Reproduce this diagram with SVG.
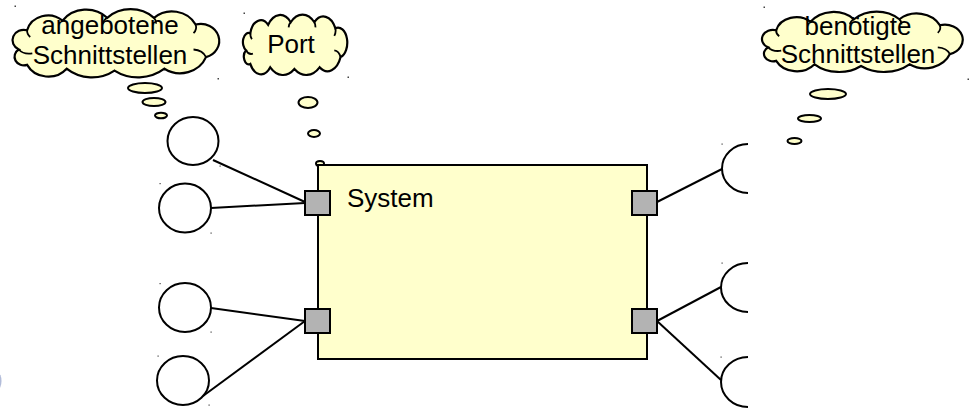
<svg xmlns="http://www.w3.org/2000/svg" width="978" height="409" viewBox="0 0 978 409">
<style>
.cl{fill:#FFFFCC;stroke:#000;stroke-width:2.2;vector-effect:non-scaling-stroke}
.curl{fill:none;stroke:#000;stroke-width:1.8;vector-effect:non-scaling-stroke}
.bub{fill:#FFFFCC;stroke:#000;stroke-width:2}
.ln{stroke:#000;stroke-width:2;fill:none}
.port{fill:#B3B3B3;stroke:#000;stroke-width:2}
.ifc{fill:#fff;stroke:#000;stroke-width:2}
.sock{fill:none;stroke:#000;stroke-width:2}
.t{font-family:"Liberation Sans",Arial,sans-serif;font-size:26px;fill:#000}
.dot{fill:#444}
</style>
<defs>
<g id="cloud">
<path class="cl" d="M20,50 A10.8,10.8 0 0 1 28,30 A20.7,20.7 0 0 1 62,20 A28.2,28.2 0 0 1 105,17 A32.6,32.6 0 0 1 150,17 A25.6,25.6 0 0 1 190,24 A17.7,17.7 0 0 1 200,58 A26.8,26.8 0 0 1 160,70 A40,40 0 0 1 112,72 A37,37 0 0 1 66,70 A23,23 0 0 1 28,66 A9,9 0 0 1 20,50 Z"/>
<path class="curl" d="M20,50 A12,9 0 0 0 33,54 M28,30 A10,9 0 0 0 31,37 M200,58 A14,12 0 0 0 188,50 M190,24 A9,9 0 0 1 188,33 M105,17 A8,8 0 0 0 101,23 M150,17 A8,8 0 0 1 152,23"/>
</g>
</defs>

<g id="cloud-angebotene">
<use href="#cloud" transform="translate(-2,1.5) scale(1.04,0.96)"/>
<text class="t" x="110" y="34" text-anchor="middle">angebotene</text>
<text class="t" x="110" y="64" text-anchor="middle">Schnittstellen</text>
<ellipse class="bub" cx="145" cy="88" rx="17" ry="5"/>
<ellipse class="bub" cx="154" cy="102" rx="11.5" ry="4"/>
<ellipse class="bub" cx="161" cy="115.5" rx="6" ry="2.8"/>
</g>

<g id="cloud-port">
<use href="#cloud" transform="translate(235.6,7.8) scale(0.525,0.85)"/>
<text class="t" x="291" y="53" text-anchor="middle">Port</text>
<ellipse class="bub" cx="308" cy="102.5" rx="9.5" ry="5.5"/>
<ellipse class="bub" cx="314" cy="133.5" rx="6" ry="3.5"/>
<ellipse class="bub" cx="320" cy="163.5" rx="4" ry="2.5"/>
</g>

<g id="cloud-benoetigte">
<use href="#cloud" transform="translate(747.9,4.8) scale(1.01,0.85)"/>
<text class="t" x="858" y="35" text-anchor="middle">benötigte</text>
<text class="t" x="858" y="63" text-anchor="middle">Schnittstellen</text>
<ellipse class="bub" cx="828" cy="94" rx="18" ry="5"/>
<ellipse class="bub" cx="809.5" cy="118.5" rx="11.5" ry="3.5"/>
<ellipse class="bub" cx="794.5" cy="141" rx="7" ry="3"/>
</g>

<g id="system">
<rect x="318" y="165" width="329" height="194" fill="#FFFFCC" stroke="#000" stroke-width="2"/>
<text class="t" x="347" y="207">System</text>
</g>

<g id="connectors">
<line class="ln" x1="213" y1="160" x2="305" y2="202"/>
<line class="ln" x1="211" y1="208" x2="305" y2="203"/>
<line class="ln" x1="211" y1="308" x2="305" y2="321"/>
<line class="ln" x1="203" y1="396" x2="305" y2="321"/>
<line class="ln" x1="657" y1="202" x2="722" y2="169"/>
<line class="ln" x1="657" y1="321" x2="721" y2="287"/>
<line class="ln" x1="657" y1="321" x2="721" y2="380"/>
</g>

<g id="port-left-top"><rect class="port" x="305" y="191" width="25" height="24"/></g>
<g id="port-left-bottom"><rect class="port" x="305" y="309" width="25" height="24"/></g>
<g id="port-right-top"><rect class="port" x="632" y="191" width="25" height="24"/></g>
<g id="port-right-bottom"><rect class="port" x="632" y="309" width="25" height="24"/></g>

<g id="provided-1"><ellipse class="ifc" cx="193" cy="141" rx="25.5" ry="24"/></g>
<g id="provided-2"><ellipse class="ifc" cx="185" cy="208" rx="26" ry="24.5"/></g>
<g id="provided-3"><ellipse class="ifc" cx="185" cy="307.5" rx="26" ry="24.5"/></g>
<g id="provided-4"><ellipse class="ifc" cx="183" cy="380.5" rx="26" ry="24.5"/></g>

<g id="required-1"><path class="sock" d="M748,144 A26,24.5 0 0 0 748,193"/></g>
<g id="required-2"><path class="sock" d="M748,263 A27,24.5 0 0 0 748,312"/></g>
<g id="required-3"><path class="sock" d="M748,357 A27,25 0 0 0 748,407"/></g>

<g id="handles">
<rect class="dot" x="14.5" y="5.5" width="1.5" height="1.5"/>
<rect class="dot" x="217.5" y="78" width="1.5" height="1.5"/>
<rect class="dot" x="243.5" y="12.5" width="1.5" height="1.5"/>
<rect class="dot" x="347.5" y="76.5" width="1.5" height="1.5"/>
<rect class="dot" x="763.5" y="6.5" width="1.5" height="1.5"/>
<rect class="dot" x="967.5" y="78.5" width="1.5" height="1.5"/>
<rect class="dot" x="219.5" y="165.5" width="1.2" height="1.2"/>
<rect class="dot" x="159.5" y="183" width="1.2" height="1.2"/>
<rect class="dot" x="210.5" y="232.5" width="1.2" height="1.2"/>
<rect class="dot" x="159.5" y="283" width="1.2" height="1.2"/>
<rect class="dot" x="210.5" y="331.5" width="1.2" height="1.2"/>
<rect class="dot" x="157.5" y="355.5" width="1.2" height="1.2"/>
<rect class="dot" x="208.5" y="404.5" width="1.2" height="1.2"/>
<rect class="dot" x="721.5" y="143.5" width="1.2" height="1.2"/>
<rect class="dot" x="721.5" y="262.5" width="1.2" height="1.2"/>
<rect class="dot" x="720.5" y="356.5" width="1.2" height="1.2"/>
</g>
<ellipse cx="-2" cy="381" rx="3.5" ry="8" fill="#7f8fc0" opacity="0.6"/>
</svg>
